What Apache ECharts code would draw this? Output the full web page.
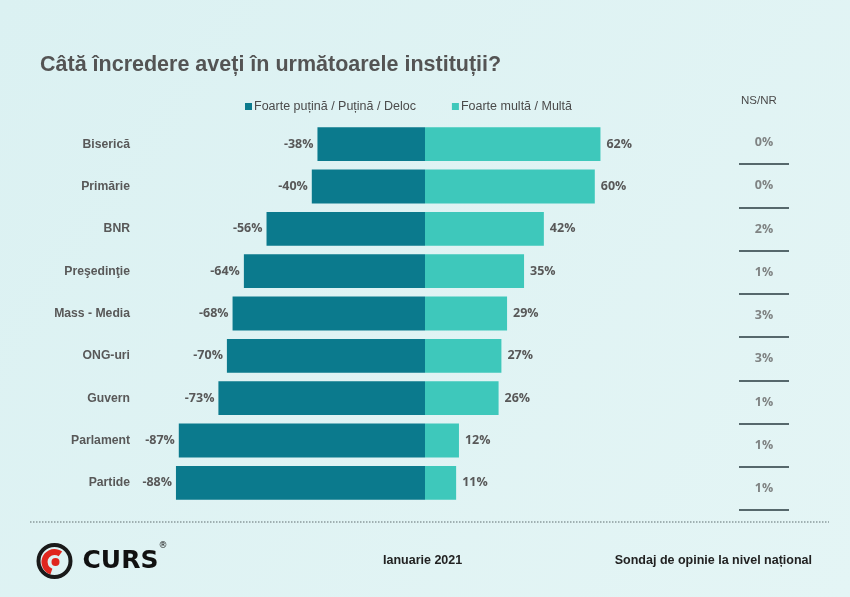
<!DOCTYPE html>
<html>
<head>
<meta charset="utf-8">
<script src="https://cdn.jsdelivr.net/npm/echarts@6/dist/echarts.min.js"></script>
<style>
  html, body { margin: 0; padding: 0; }
  #main { width: 850px; height: 597px; }
</style>
</head>
<body>
<div id="main"></div>
<script>
// date
const institutii = ['Biserică', 'Primărie', 'BNR', 'Preşedinţie', 'Mass - Media', 'ONG-uri', 'Guvern', 'Parlament', 'Partide'];
const putina = [-38, -40, -56, -64, -68, -70, -73, -87, -88];
const multa = [62, 60, 42, 35, 29, 27, 26, 12, 11];
const nsnr = [0, 0, 2, 1, 3, 3, 1, 1, 1];

const darkTeal = '#0b7a8d';
const lightTeal = '#3ec8bb';
const textGray = '#585858';

const chart = echarts.init(document.getElementById('main'));

const option = {
  backgroundColor: {
    type: 'linear', x: 0, y: 0, x2: 1, y2: 1,
    colorStops: [
      { offset: 0, color: '#dbf1f2' },
      { offset: 1, color: '#e4f5f5' }
    ]
  },
  animation: false,
  title: {
    text: 'Câtă încredere aveți în următoarele instituții?',
    left: 35,
    top: 49,
    textStyle: {
      fontFamily: 'Liberation Sans',
      fontSize: 21.5,
      fontWeight: 'bold',
      color: '#545454'
    }
  },
  legend: {
    left: 240,
    top: 95,
    itemWidth: 7,
    itemHeight: 7,
    itemGap: 36,
    icon: 'rect',
    textStyle: { fontFamily: 'Liberation Sans', fontSize: 12.5, color: '#4a4a4a', padding: [0, 0, 0, -3] },
    data: ['Foarte puțină / Puțină / Deloc', 'Foarte multă / Multă']
  },
  grid: [
    { left: 142, right: 142, top: 123, height: 381 },
    { left: 739, width: 50, top: 121, height: 389 }
  ],
  xAxis: [
    { type: 'value', gridIndex: 0, min: -100, max: 100, show: false },
    { type: 'value', gridIndex: 1, min: 0, max: 1, show: false }
  ],
  yAxis: [
    {
      type: 'category',
      gridIndex: 0,
      inverse: true,
      data: institutii,
      axisLine: { show: false },
      axisTick: { show: false },
      axisLabel: {
        margin: 12,
        fontFamily: 'Liberation Sans',
        fontSize: 12.2,
        fontWeight: 'bold',
        color: textGray
      }
    },
    {
      type: 'category',
      gridIndex: 1,
      inverse: true,
      data: institutii,
      axisLine: { show: false },
      axisTick: { show: false },
      axisLabel: { show: false },
      splitLine: {
        show: true,
        showMinLine: false,
        showMaxLine: true,
        lineStyle: { color: '#56686c', width: 2 }
      }
    }
  ],
  series: [
    {
      name: 'Foarte puțină / Puțină / Deloc',
      type: 'bar',
      stack: 'total',
      barCategoryGap: '20%',
      itemStyle: { color: darkTeal },
      label: {
        show: true,
        position: 'left',
        distance: 4,
        formatter: p => p.value + '%',
        fontFamily: 'Open Sans',
        fontSize: 12.5,
        fontWeight: 'bold',
        color: textGray
      },
      data: putina
    },
    {
      name: 'Foarte multă / Multă',
      type: 'bar',
      stack: 'total',
      barCategoryGap: '20%',
      itemStyle: { color: lightTeal },
      label: {
        show: true,
        position: 'right',
        distance: 6,
        formatter: p => p.value + '%',
        fontFamily: 'Open Sans',
        fontSize: 12.5,
        fontWeight: 'bold',
        color: textGray
      },
      data: multa
    },
    {
      name: 'NS/NR',
      type: 'scatter',
      xAxisIndex: 1,
      yAxisIndex: 1,
      symbolSize: 1,
      itemStyle: { color: 'rgba(0,0,0,0)' },
      label: {
        show: true,
        position: 'inside',
        formatter: p => p.value[2] + '%',
        fontFamily: 'Open Sans',
        fontSize: 12.5,
        fontWeight: 'bold',
        color: '#666'
      },
      data: nsnr.map((v, i) => [0.5, i, v])
    }
  ],
  graphic: [
    {
      type: 'text', left: 741, top: 95,
      style: { text: 'NS/NR', font: '11.5px "Liberation Sans"', fill: '#4a4a4a' }
    },
    {
      type: 'line',
      shape: { x1: 30, y1: 522, x2: 829, y2: 522 },
      style: { stroke: '#8a9a9c', lineWidth: 1.5, lineDash: [1.5, 1.5] }
    },
    {
      type: 'text', left: 383, top: 554,
      style: { text: 'Ianuarie 2021', font: 'bold 12.5px "Liberation Sans"', fill: '#222' }
    },
    {
      type: 'text', right: 38, top: 554,
      style: { text: 'Sondaj de opinie la nivel național', font: 'bold 12.5px "Liberation Sans"', fill: '#222' }
    },
    // logo CURS
    {
      type: 'group', left: 36, top: 541,
      children: [
        { type: 'circle', shape: { cx: 18, cy: 18, r: 16 }, style: { fill: 'none', stroke: '#1a1a1a', lineWidth: 4 } },
        { type: 'arc', shape: { cx: 18, cy: 19, r: 10, startAngle: Math.PI * 0.6, endAngle: Math.PI * 1.7 }, style: { fill: 'none', stroke: '#e0261e', lineWidth: 6 } },
        { type: 'circle', shape: { cx: 19, cy: 19, r: 4 }, style: { fill: '#e0261e' } },
        { type: 'text', x: 46, y: 6, style: { text: 'CURS', font: 'bold 25px "DejaVu Sans"', fill: '#111' } },
        { type: 'text', x: 122, y: -2, style: { text: '®', font: '9px "DejaVu Sans"', fill: '#111' } }
      ]
    }
  ]
};

chart.setOption(option);
</script>
</body>
</html>
